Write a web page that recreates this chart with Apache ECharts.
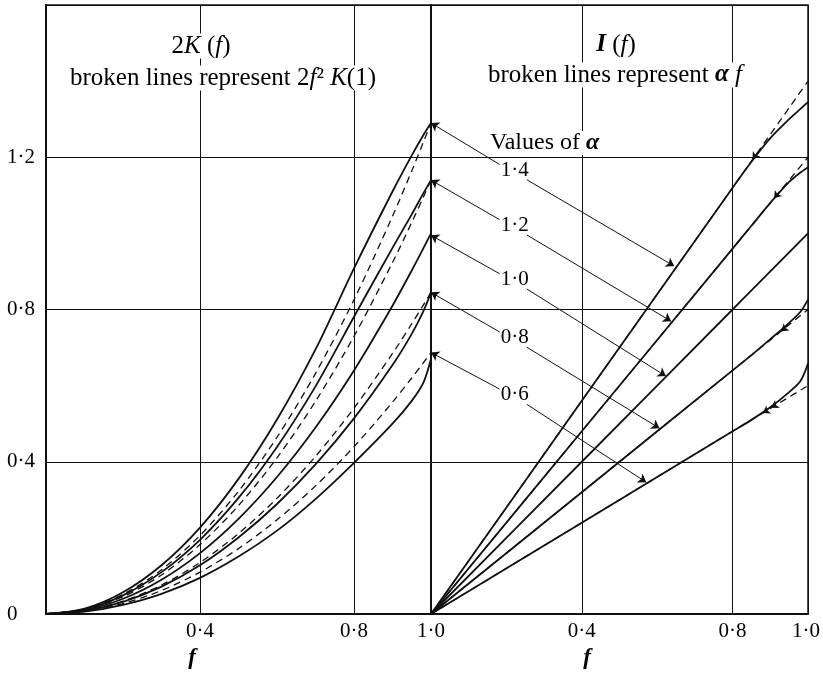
<!DOCTYPE html>
<html><head><meta charset="utf-8">
<script src="https://cdn.jsdelivr.net/npm/echarts@6/dist/echarts.min.js"></script>
<style>html,body{margin:0;padding:0;background:#fff}#c{width:823px;height:676px}</style>
</head><body><div id="c"></div>
<script>
// ---------- data ----------
const alphas = [1.4, 1.2, 1.0, 0.8, 0.6];
const alphaLabels = ['1·4', '1·2', '1·0', '0·8', '0·6'];

// left panel: 2K(f)
const fLeft = [0, 0.1, 0.2, 0.3, 0.4, 0.5, 0.6, 0.7, 0.8, 0.9, 0.95, 0.98, 1.0];
const K_a14 = [0, 0.014, 0.057, 0.128, 0.227, 0.355, 0.511, 0.695, 0.908, 1.110, 1.205, 1.258, 1.29];
const K_a12 = [0, 0.012, 0.049, 0.110, 0.195, 0.305, 0.439, 0.598, 0.781, 0.962, 1.050, 1.105, 1.14];
const K_a10 = [0, 0.010, 0.040, 0.090, 0.160, 0.250, 0.360, 0.490, 0.640, 0.810, 0.9025, 0.9604, 1.0];
const K_a08 = [0, 0.008, 0.032, 0.072, 0.128, 0.201, 0.289, 0.393, 0.514, 0.654, 0.736, 0.795, 0.845];
const K_a06 = [0, 0.006, 0.024, 0.053, 0.095, 0.151, 0.219, 0.302, 0.397, 0.500, 0.560, 0.607, 0.67];
// broken lines 2f^2 K(1)
const P_a14 = [0, 0.0129, 0.0516, 0.1161, 0.2064, 0.3225, 0.4644, 0.6321, 0.8256, 1.0449, 1.1642, 1.2389, 1.29];
const P_a12 = [0, 0.0114, 0.0456, 0.1026, 0.1824, 0.285, 0.4104, 0.5586, 0.7296, 0.9234, 1.0289, 1.0949, 1.14];
const P_a08 = [0, 0.0085, 0.0338, 0.0761, 0.1352, 0.2113, 0.3042, 0.4141, 0.5408, 0.6845, 0.7626, 0.8115, 0.845];
const P_a06 = [0, 0.0069, 0.0275, 0.0618, 0.1099, 0.1718, 0.2473, 0.3366, 0.4397, 0.5565, 0.620, 0.6598, 0.687];

// right panel: I(f)
const fRight = [0, 0.4, 0.8, 0.85, 0.9, 0.95, 0.98, 1.0];
const I_a14 = [0, 0.56, 1.12, 1.188, 1.250, 1.300, 1.327, 1.345];
const I_a12 = [0, 0.48, 0.96, 1.020, 1.080, 1.135, 1.160, 1.174];
const I_a10 = [0, 0.40, 0.80, 0.850, 0.900, 0.950, 0.980, 1.000];
const I_a08 = [0, 0.32, 0.64, 0.680, 0.722, 0.765, 0.794, 0.826];
const I_a06 = [0, 0.24, 0.48, 0.510, 0.543, 0.583, 0.612, 0.658];
// broken lines alpha*f (end points)
const fLine = [0, 1.0];
const L_a14 = [0, 1.4];
const L_a12 = [0, 1.2];
const L_a08 = [0, 0.8];
const L_a06 = [0, 0.6];

// annotation: label anchors (right-panel coords) and arrow targets
const labelF = 0.222;
const labelV = [1.166, 1.021, 0.879, 0.726, 0.576];
const peakV = [1.29, 1.14, 0.995, 0.845, 0.687];
const targetF = [0.645, 0.637, 0.623, 0.606, 0.571];
const targetV = [0.914, 0.769, 0.625, 0.488, 0.346];
// small arrowheads on the right-panel curves (where the broken lines part)
const markF = [0.853, 0.91, 0.929, 0.903, 0.88];
const markV = [1.194, 1.092, 0.743, 0.542, 0.528];

const yTicks = [0, 0.4, 0.8, 1.2];

// ---------- build ----------
const SERIF = '"Liberation Serif","DejaVu Serif",serif';
const INK = '#111';
const zip = (xs, ys) => xs.map((x, i) => [x, ys[i]]);
const fmt = v => v.toFixed(1).replace('.', '·');

function curve(xs, ys, grid, dashed) {
  return {
    type: 'line', xAxisIndex: grid, yAxisIndex: grid, data: zip(xs, ys),
    showSymbol: false, smooth: 0.3, silent: true,
    lineStyle: dashed ? {color: INK, width: 1.3, type: [7, 5]} : {color: INK, width: 1.8},
    z: dashed ? 3 : 4
  };
}

const series = [
  curve(fLeft, K_a14, 0, false), curve(fLeft, K_a12, 0, false), curve(fLeft, K_a10, 0, false),
  curve(fLeft, K_a08, 0, false), curve(fLeft, K_a06, 0, false),
  curve(fLeft, P_a14, 0, true), curve(fLeft, P_a12, 0, true),
  curve(fLeft, P_a08, 0, true), curve(fLeft, P_a06, 0, true),
  curve(fRight, I_a14, 1, false), curve(fRight, I_a12, 1, false), curve(fRight, I_a10, 1, false),
  curve(fRight, I_a08, 1, false), curve(fRight, I_a06, 1, false),
  curve(fLine, L_a14, 1, true), curve(fLine, L_a12, 1, true),
  curve(fLine, L_a08, 1, true), curve(fLine, L_a06, 1, true)
];

const arrowData = [];
alphas.forEach((a, i) => {
  arrowData.push({coords: [[labelF - 0.04, labelV[i] + 0.015], [0, peakV[i]]]});
  arrowData.push({coords: [[labelF + 0.032, labelV[i] - 0.025], [targetF[i], targetV[i]]]});
});
series.push({
  type: 'lines', coordinateSystem: 'cartesian2d', xAxisIndex: 1, yAxisIndex: 1,
  data: arrowData, symbol: ['none', 'arrow'], symbolSize: 8, silent: true,
  lineStyle: {color: INK, width: 1, opacity: 1}, z: 5
});
// tiny arrowheads lying on the curves, pointing toward the origin
const slopes = [1.4, 1.2, 0.8, 0.6, 0.6];
series.push({
  type: 'lines', coordinateSystem: 'cartesian2d', xAxisIndex: 1, yAxisIndex: 1,
  data: markF.map((f, i) => ({coords: [[f + 0.012, markV[i] + 0.012 * slopes[i]], [f, markV[i]]]})),
  symbol: ['none', 'arrow'], symbolSize: 7, silent: true,
  lineStyle: {color: INK, width: 1.5, opacity: 1}, z: 5
});
series.push({
  type: 'scatter', xAxisIndex: 1, yAxisIndex: 1, symbolSize: 1, silent: true, z: 6,
  itemStyle: {opacity: 0},
  data: alphas.map((a, i) => ({value: [labelF, labelV[i]], label: {formatter: alphaLabels[i]}})),
  label: {show: true, position: 'inside', color: '#000', opacity: 1, textBorderWidth: 0,
    fontFamily: SERIF, fontSize: 21}
});

const xAxisCommon = {
  type: 'value', min: 0, max: 1, interval: 0.4,
  axisLine: {show: true, lineStyle: {color: INK, width: 2}},
  axisTick: {show: false},
  splitLine: {show: true, lineStyle: {color: INK, width: 1}}
};
const yAxisCommon = {
  type: 'value', min: 0, max: 1.6, interval: 0.4,
  axisLine: {show: true, lineStyle: {color: INK, width: 2}},
  axisTick: {show: false},
  splitLine: {show: true, lineStyle: {color: INK, width: 1}}
};
const tickLabel = {color: '#000', fontFamily: SERIF, fontSize: 21, margin: 7};

const FS = 25;
const rich = {
  n: {fontFamily: SERIF, fontSize: FS, color: '#000'},
  i: {fontFamily: SERIF, fontSize: FS, fontStyle: 'italic', color: '#000'},
  bi: {fontFamily: SERIF, fontSize: FS, fontStyle: 'italic', fontWeight: 'bold', color: '#000'},
  n2: {fontFamily: SERIF, fontSize: 24, color: '#000'},
  bi2: {fontFamily: SERIF, fontSize: 24, fontStyle: 'italic', fontWeight: 'bold', color: '#000'},
  fb: {fontFamily: SERIF, fontSize: 23, fontStyle: 'italic', fontWeight: 'bold', color: '#000'}
};
function txt(x, y, text, align, bg) {
  return {type: 'text', x: x, y: y, z: 100, silent: true,
    style: {text: text, rich: rich, align: align || 'center', verticalAlign: 'middle',
      backgroundColor: bg ? '#fff' : 'transparent', padding: bg ? [0, 2] : 0}};
}

const option = {
  backgroundColor: '#fff',
  animation: false,
  grid: [
    {left: 46, top: 5, width: 385, height: 609, show: true, borderColor: INK, borderWidth: 1.5},
    {left: 431, top: 5, width: 383, height: 609, show: true, borderColor: INK, borderWidth: 1.5}
  ],
  xAxis: [
    Object.assign({}, xAxisCommon, {gridIndex: 0,
      axisLabel: Object.assign({}, tickLabel, {formatter: v => v === 0 ? '' : fmt(v)})}),
    Object.assign({}, xAxisCommon, {gridIndex: 1,
      axisLabel: Object.assign({}, tickLabel, {
        formatter: v => v === 0 ? '' : (v >= 0.999 ? '{r|' + fmt(v) + '}' : fmt(v)),
        rich: {r: {fontFamily: SERIF, fontSize: 21, color: '#000', padding: [0, 4, 0, 0]}}})})
  ],
  yAxis: [
    Object.assign({}, yAxisCommon, {gridIndex: 0,
      axisLabel: {color: '#000', fontFamily: SERIF, fontSize: 21, align: 'left', margin: 39,
        formatter: v => (yTicks.some(t => Math.abs(t - v) < 1e-6) ? (v === 0 ? '0' : fmt(v)) : '')}}),
    Object.assign({}, yAxisCommon, {gridIndex: 1, axisLabel: {show: false}})
  ],
  series: series,
  graphic: [
    txt(201, 46, '{n|2}{i|K}{n| (}{i|f}{n|)}', 'center', true),
    txt(223, 78, '{n|broken lines represent 2}{i|f}{n|² }{i|K}{n|(1)}', 'center', true),
    txt(616, 45, '{bi|I}{n| (}{i|f}{n|)}', 'center', true),
    txt(615, 75, '{n|broken lines represent }{bi|α}{n| }{i|f}', 'center', true),
    txt(488, 143, '{n2|Values of }{bi2|α}', 'left', true),
    txt(192, 658, '{fb|f}', 'center', false),
    txt(587, 658, '{fb|f}', 'center', false)
  ]
};
echarts.init(document.getElementById('c')).setOption(option);
</script></body></html>
